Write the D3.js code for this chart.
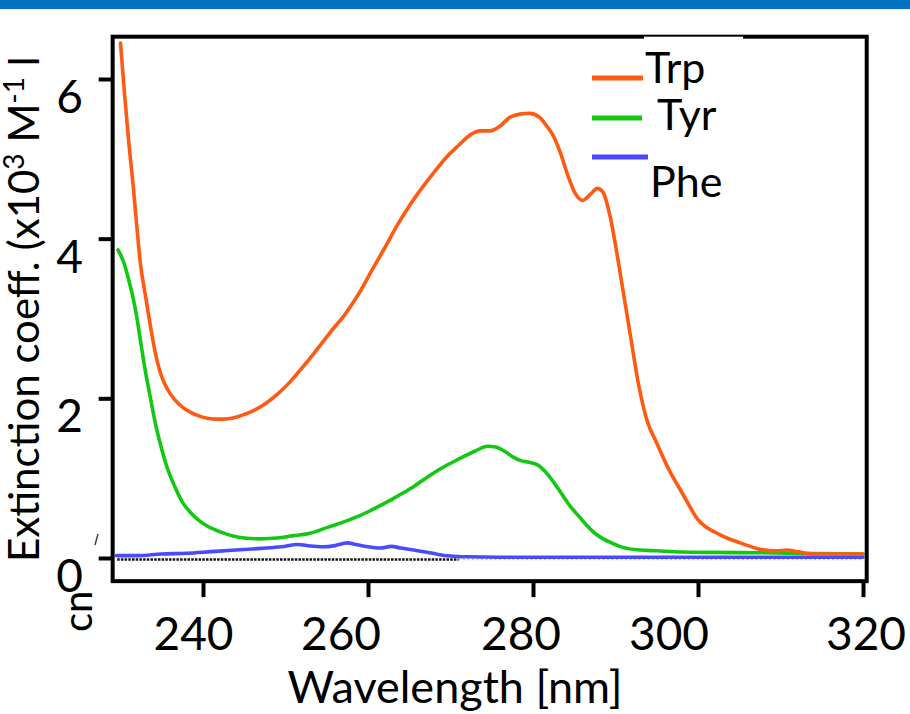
<!DOCTYPE html>
<html>
<head>
<meta charset="utf-8">
<script src="https://cdn.jsdelivr.net/npm/d3@7"></script>
<style>
  html, body { margin: 0; padding: 0; background: #fff; }
  svg { display: block; }
  text { font-family: Lato, "Open Sans", sans-serif; fill: #000; }
</style>
</head>
<body>
<svg id="chart" width="910" height="714"></svg>
<script>
// Molar extinction spectra of the aromatic amino acids (x10^3 M^-1 cm^-1)
const trpWl = [230, 230.5, 231, 231.5, 232, 232.4, 233, 233.6, 234.2, 234.8, 235.6, 236.6, 237.5, 238.4, 239.5,
  240.5, 241.5, 242.5, 243.5, 244.5, 246, 247.5, 249, 250.5, 252, 253.5, 255, 256, 257, 258, 259, 260.5, 262,
  263.5, 265, 266.5, 268, 269.5, 271, 272.4, 273.6, 274.8, 276, 277.2, 278.4, 279.6, 280.8, 281.6, 282.4, 283.3,
  284.2, 285.1, 286, 287, 287.8, 288.5, 289.3, 290, 290.8, 291.8, 292.8, 293.8, 295, 296.5, 298, 300, 302.7,
  305.1, 307.5, 309.5, 310.8, 312, 314, 317, 320];
const trpEps = [6.45, 5.8, 5.21, 4.7, 4.13, 3.7, 3.3, 2.92, 2.58, 2.33, 2.13, 1.98, 1.89, 1.83, 1.78,
  1.75, 1.74, 1.74, 1.75, 1.78, 1.84, 1.93, 2.05, 2.2, 2.38, 2.57, 2.77, 2.9, 3.02, 3.17, 3.33, 3.61, 3.88,
  4.16, 4.41, 4.63, 4.83, 5.02, 5.17, 5.3, 5.35, 5.35, 5.41, 5.52, 5.56, 5.57, 5.52, 5.42, 5.3, 5.08,
  4.8, 4.57, 4.48, 4.56, 4.63, 4.58, 4.3, 3.92, 3.42, 2.79, 2.17, 1.73, 1.44, 1.1, 0.83, 0.48, 0.29,
  0.19, 0.11, 0.09, 0.1, 0.08, 0.05, 0.05, 0.05];

const tyrWl = [229.7, 230, 230.5, 231, 231.5, 232, 232.5, 233, 233.6, 234.2, 234.8, 235.6, 236.6, 237.5, 238.4,
  239.5, 240.5, 242, 243.5, 245, 247, 249, 251, 253, 255, 257, 259, 261, 263, 265, 267, 269, 271, 273, 274.5,
  275.5, 276.5, 277.5, 278.5, 279.5, 280.5, 281.5, 282.5, 283.5, 284.5, 285.5, 286.5, 287.5, 288.5, 289.5,
  291, 293, 295, 298, 302, 308, 314, 320];
const tyrEps = [3.86, 3.8, 3.67, 3.48, 3.27, 3.0, 2.67, 2.35, 2.02, 1.7, 1.44, 1.15, 0.89, 0.7, 0.58,
  0.47, 0.4, 0.33, 0.28, 0.25, 0.24, 0.25, 0.28, 0.31, 0.38, 0.45, 0.53, 0.63, 0.74, 0.86, 1.0, 1.13, 1.24, 1.34, 1.4,
  1.39, 1.34, 1.27, 1.22, 1.2, 1.17, 1.08, 0.95, 0.8, 0.65, 0.53, 0.41, 0.31, 0.24, 0.19,
  0.13, 0.1, 0.09, 0.075, 0.07, 0.065, 0.055, 0.05];

const pheWl = [229.5, 232, 235, 238, 241, 244, 247, 249.5, 251.5, 253, 254.5, 256, 257.5, 258.5, 260, 261.5,
  262.8, 264, 265.5, 267, 268.5, 270, 272, 276, 285, 300, 320];
const pheEps = [0.03, 0.03, 0.05, 0.06, 0.08, 0.1, 0.12, 0.14, 0.17, 0.15, 0.14, 0.155, 0.19, 0.17, 0.14, 0.125,
  0.145, 0.125, 0.1, 0.075, 0.045, 0.025, 0.015, 0.01, 0.01, 0.01, 0.01];

const seriesNames = ["Trp", "Tyr", "Phe"];
const xTicks = [240, 260, 280, 300, 320];
const yTicks = [0, 2, 4, 6];
const xTitle = "Wavelength [nm]";

// ---- layout ----
const colors = { Trp: "#ff5a12", Tyr: "#12c812", Phe: "#4a4aff" };
const svg = d3.select("#chart");

const x = d3.scaleLinear().domain([240, 320]).range([203, 863]);
const y = d3.scaleLinear().domain([0, 6]).range([558, 79]);

const frame = { left: x(229.05), right: x(320.45), top: y(6.53), bottom: y(-0.29) };

// header band
svg.append("rect").attr("x", 0).attr("y", 0).attr("width", 910).attr("height", 9).attr("fill", "#0070c0");

// zero reference (dotted)
svg.append("line")
  .attr("x1", x(229.6)).attr("x2", x(271)).attr("y1", y(0) + 1.5).attr("y2", y(0) + 1.5)
  .attr("stroke", "#111").attr("stroke-width", 2.5).attr("stroke-dasharray", "2.5,1.2");
svg.append("line")
  .attr("x1", x(271)).attr("x2", x(320)).attr("y1", y(0) + 1.5).attr("y2", y(0) + 1.5)
  .attr("stroke", "#bbb").attr("stroke-width", 1.5).attr("stroke-dasharray", "1.5,3");

// spectra
const line = d3.line().x(d => x(d[0])).y(d => y(d[1])).curve(d3.curveMonotoneX);
const series = [
  { name: "Phe", pts: d3.zip(pheWl, pheEps) },
  { name: "Tyr", pts: d3.zip(tyrWl, tyrEps) },
  { name: "Trp", pts: d3.zip(trpWl, trpEps) }
];
svg.append("g").selectAll("path").data(series).join("path")
  .attr("d", d => line(d.pts))
  .attr("fill", "none")
  .attr("stroke", d => colors[d.name])
  .attr("stroke-width", 3.6)
  .attr("stroke-linejoin", "round")
  .attr("stroke-linecap", "round");

// plot frame
svg.append("rect")
  .attr("x", frame.left).attr("y", frame.top)
  .attr("width", frame.right - frame.left).attr("height", frame.bottom - frame.top)
  .attr("fill", "none").attr("stroke", "#000").attr("stroke-width", 4);
// white text box overlapping the top edge
svg.append("rect").attr("x", 644).attr("y", frame.top).attr("width", 99).attr("height", 8).attr("fill", "#fff");

// x axis ticks
const gx = svg.append("g").attr("transform", `translate(0,${frame.bottom})`)
  .call(d3.axisBottom(x).tickValues(xTicks).tickSize(16).tickFormat(""));
gx.select(".domain").remove();
gx.selectAll(".tick line").attr("stroke", "#000").attr("stroke-width", 4);

const xLabelNudge = [-9.5, -27, -12, -29, 3];
svg.append("g").selectAll("text").data(xTicks).join("text")
  .attr("x", (d, i) => x(d) + xLabelNudge[i])
  .attr("y", 650)
  .attr("text-anchor", "middle")
  .attr("font-size", 46)
  .text(d => d);

// y axis ticks
const gy = svg.append("g").attr("transform", `translate(${frame.left},0)`)
  .call(d3.axisLeft(y).tickValues(yTicks).tickSize(14).tickFormat(""));
gy.select(".domain").remove();
gy.selectAll(".tick line").attr("stroke", "#000").attr("stroke-width", 4);

svg.append("g").selectAll("text").data(yTicks).join("text")
  .attr("x", 83)
  .attr("y", d => y(d) + 34)
  .attr("text-anchor", "end")
  .attr("font-size", 46)
  .text(d => d);

// axis titles
svg.append("text")
  .attr("x", 455).attr("y", 703)
  .attr("text-anchor", "middle")
  .attr("font-size", 45)
  .text(xTitle);

const yTitle = svg.append("text")
  .attr("transform", "translate(39,562) rotate(-90)")
  .attr("font-size", 42);
yTitle.append("tspan").text("Extinction coeff. (x10");
yTitle.append("tspan").attr("dy", -15).attr("font-size", 28).text("3");
yTitle.append("tspan").attr("dy", 15).text(" M");
yTitle.append("tspan").attr("dy", -15).attr("font-size", 28).text("-1");
yTitle.append("tspan").attr("dy", 15).text(" l");

// clipped unit fragment below the y axis
svg.append("text")
  .attr("transform", "translate(92,632) rotate(-90)")
  .attr("font-size", 40)
  .text("cn");
svg.append("path").attr("d", "M98,534 L95,545").attr("stroke", "#444").attr("stroke-width", 1.5);

// legend
const legendRows = [
  { name: "Trp", ly: 78, x2: 643, tx: 645, ty: 83 },
  { name: "Tyr", ly: 118, x2: 642, tx: 657, ty: 130 },
  { name: "Phe", ly: 157, x2: 648, tx: 650, ty: 197 }
];
const lg = svg.append("g");
lg.selectAll("line").data(legendRows).join("line")
  .attr("x1", 592).attr("x2", d => d.x2)
  .attr("y1", d => d.ly).attr("y2", d => d.ly)
  .attr("stroke", d => colors[d.name]).attr("stroke-width", 5);
lg.selectAll("text").data(legendRows).join("text")
  .attr("x", d => d.tx).attr("y", d => d.ty)
  .attr("font-size", 43)
  .text((d, i) => seriesNames[i]);
</script>
</body>
</html>
